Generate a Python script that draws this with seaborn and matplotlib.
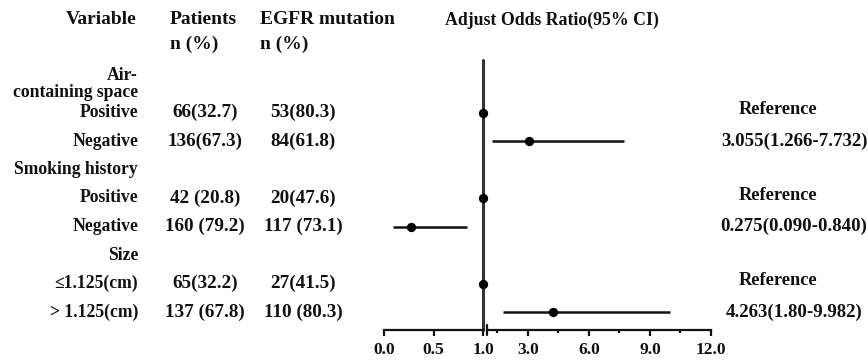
import numpy as np
import pandas as pd
import seaborn as sns
from matplotlib import pyplot as plt

# table rows (row 0 is the air-containing space group header)
row_labels = ["Air-\ncontaining space", "Positive", "Negative", "Smoking history",
              "Positive", "Negative", "Size", "\u22641.125(cm)", "> 1.125(cm)"]
patients = ["", "66(32.7)", "136(67.3)", "", "42 (20.8)", "160 (79.2)", "", "65(32.2)", "137 (67.8)"]
egfr = ["", "53(80.3)", "84(61.8)", "", "20(47.6)", "117 (73.1)", "", "27(41.5)", "110 (80.3)"]
odds = [np.nan, 1.0, 3.055, np.nan, 1.0, 0.275, np.nan, 1.0, 4.263]
ci_low = [np.nan, np.nan, 1.266, np.nan, np.nan, 0.090, np.nan, np.nan, 1.80]
ci_high = [np.nan, np.nan, 7.732, np.nan, np.nan, 0.840, np.nan, np.nan, 9.982]
or_text = ["", "Reference", "3.055(1.266-7.732)", "", "Reference",
           "0.275(0.090-0.840)", "", "Reference", "4.263(1.80-9.982)"]

left_ticks = [0.0, 0.5, 1.0]
right_ticks = [3.0, 6.0, 9.0, 12.0]
right_minor = [1.5, 4.5, 7.5, 10.5]

sns.set_theme(style="white")
plt.rcParams["font.family"] = ["Liberation Serif", "DejaVu Serif"]
plt.rcParams["font.weight"] = "bold"

W, H = 868, 362
fig = plt.figure(figsize=(W / 100, H / 100), dpi=100)

# background axes in pixel units for the text table
tab = fig.add_axes([0, 0, 1, 1])
tab.set_xlim(0, W)
tab.set_ylim(H, 0)
tab.axis("off")

row_y0, row_step = 84, 28.5
ink = "#111111"
fs_head = 14
fs_lab = 12.7
fs_num = 13.8
fs_or = 13.6


def row_px(i):
    return row_y0 + row_step * i


def put(x, y, s, size, ha="center", **kw):
    tab.text(x, y, s, ha=ha, va="center", fontsize=size, color=ink, fontweight="bold", **kw)


put(137, 20, "Variable", fs_head, ha="right")
put(170, 20, "Patients", fs_head, ha="left")
put(170, 44, "n (%)", fs_head, ha="left")
put(260, 20, "EGFR mutation", fs_head, ha="left")
put(260, 44, "n (%)", fs_head, ha="left")
put(552, 20, "Adjust Odds Ratio(95% CI)", 12.8)

for i, lab in enumerate(row_labels):
    y = row_px(i)
    put(138, y, lab, fs_lab, ha="right", linespacing=1.0)
    put(205, y, patients[i], fs_num)
    put(303, y, egfr[i], fs_num)
    if or_text[i] == "Reference":
        put(778, y - 3, or_text[i], 13.2)
    elif or_text[i]:
        put(794, y, or_text[i], fs_or)

# forest plot: broken x axis, 0-1 on the left, 1-12 on the right
top_px, axis_px = 60, 330
y_top = (top_px - row_y0) / row_step
y_bot = (axis_px - row_y0) / row_step
fb = (H - axis_px) / H
fh = (axis_px - top_px) / H
ax_l = fig.add_axes([384 / W, fb, (483 - 384) / W, fh])
ax_r = fig.add_axes([487 / W, fb, (711 - 487) / W, fh])

df = pd.DataFrame({"row": np.arange(len(odds)), "odds": odds, "lo": ci_low, "hi": ci_high})
df = df.dropna(subset=["odds"])
left_df = df[df["odds"] <= 1.0]
right_df = df[df["odds"] > 1.0]

for ax, part, lim in [(ax_l, left_df, (0, 1)), (ax_r, right_df, (1, 12))]:
    ci = part.dropna(subset=["lo"])
    ax.hlines(ci["row"], ci["lo"], ci["hi"], color="#111111", linewidth=1.8)
    sns.scatterplot(data=part, x="odds", y="row", ax=ax, color="#000000", s=45,
                    edgecolor="#000000", linewidth=0, legend=False, clip_on=False, zorder=3)
    ax.set_xlim(*lim)
    ax.set_ylim(y_bot, y_top)
    ax.set_xlabel("")
    ax.set_ylabel("")
    ax.set_yticks([])
    ax.patch.set_alpha(0)
    for side in ["top", "left", "right"]:
        ax.spines[side].set_visible(False)
    ax.spines["bottom"].set_color("#111111")
    ax.spines["bottom"].set_linewidth(1.6)
    ax.tick_params(axis="x", which="both", direction="out", bottom=True, color="#111111",
                   width=1.6, labelsize=12.6, pad=4.5, labelcolor=ink)
    ax.tick_params(axis="x", which="major", length=4.5)
    ax.tick_params(axis="x", which="minor", length=2.5)

ax_l.axvline(1.0, color="#333333", linewidth=2.2, clip_on=False, zorder=2)
ax_l.set_xticks(left_ticks)
ax_l.set_xticklabels([f"{t:.1f}" for t in left_ticks], fontweight="bold")
ax_r.set_xticks(right_ticks)
ax_r.set_xticklabels([f"{t:.1f}" for t in right_ticks], fontweight="bold")
ax_r.set_xticks(right_minor, minor=True)
# break mark at the start of the right segment
ax_r.plot([0, 0], [-0.018, 0.018], transform=ax_r.transAxes, color="#111111",
          linewidth=1.6, clip_on=False)

fig.savefig("out.png", dpi=100)
